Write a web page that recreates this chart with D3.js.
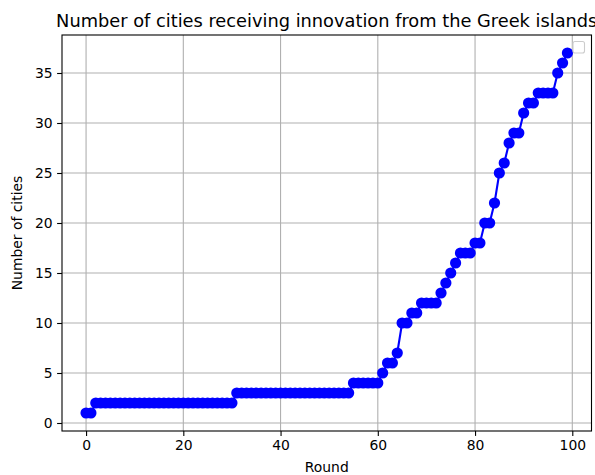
<!DOCTYPE html>
<html>
<head>
<meta charset="utf-8">
<script src="https://cdn.jsdelivr.net/npm/d3@7"></script>
<style>
  body { margin: 0; background: #fff; }
  svg { display: block; font-family: "DejaVu Sans", sans-serif; }
</style>
</head>
<body>
<svg id="chart" width="595" height="475"></svg>
<script>
// ---- data ----
const rounds = d3.range(0, 100);
const cities = [
  1, 1,
  2, 2, 2, 2, 2, 2, 2, 2, 2, 2, 2, 2, 2, 2, 2, 2, 2, 2, 2, 2, 2, 2, 2, 2, 2, 2, 2, 2, 2,
  3, 3, 3, 3, 3, 3, 3, 3, 3, 3, 3, 3, 3, 3, 3, 3, 3, 3, 3, 3, 3, 3, 3, 3,
  4, 4, 4, 4, 4, 4,
  5,
  6, 6,
  7,
  10, 10,
  11, 11,
  12, 12, 12, 12,
  13, 14, 15, 16,
  17, 17, 17,
  18, 18,
  20, 20,
  22, 25, 26, 28,
  29, 29,
  31,
  32, 32,
  33, 33, 33, 33,
  35, 36, 37
];
const xTicks = [0, 20, 40, 60, 80, 100];
const yTicks = [0, 5, 10, 15, 20, 25, 30, 35];
const titleText = "Number of cities receiving innovation from the Greek islands";
const xLabel = "Round";
const yLabel = "Number of cities";

// ---- layout ----
const svg = d3.select("#chart");
const L = 62, R = 591.5, T = 35, B = 431;

const xMin = d3.min(rounds), xMax = d3.max(rounds);
const xPad = (xMax - xMin) * 0.05;
const yMin = d3.min(cities), yMax = d3.max(cities);
const yPad = (yMax - yMin) * 0.05;

const x = d3.scaleLinear().domain([xMin - xPad, xMax + xPad]).range([L, R]);
const y = d3.scaleLinear().domain([yMin - yPad, yMax + yPad]).range([B, T]);

// grid
const grid = svg.append("g");
grid.selectAll(".gx").data(xTicks).enter().append("line")
  .attr("x1", d => x(d)).attr("x2", d => x(d))
  .attr("y1", T).attr("y2", B)
  .attr("stroke", "#b0b0b0").attr("stroke-width", 1.1);
grid.selectAll(".gy").data(yTicks).enter().append("line")
  .attr("x1", L).attr("x2", R)
  .attr("y1", d => y(d)).attr("y2", d => y(d))
  .attr("stroke", "#b0b0b0").attr("stroke-width", 1.1);

// axes
const xAxis = d3.axisBottom(x).tickValues(xTicks).tickSize(4.9).tickPadding(4.5).tickFormat(d3.format("d"));
const yAxis = d3.axisLeft(y).tickValues(yTicks).tickSize(4.9).tickPadding(4.5).tickFormat(d3.format("d"));

const gx = svg.append("g").attr("transform", `translate(0,${B})`).call(xAxis);
const gy = svg.append("g").attr("transform", `translate(${L},0)`).call(yAxis);
[gx, gy].forEach(g => {
  g.select(".domain").remove();
  g.selectAll(".tick line").attr("stroke", "#000").attr("stroke-width", 1.1);
  g.selectAll(".tick text").attr("fill", "#000")
    .style("font-family", "DejaVu Sans").style("font-size", "13.9px");
});

// series
const pts = rounds.map((r, i) => [r, cities[i]]);
svg.append("path")
  .datum(pts)
  .attr("fill", "none")
  .attr("stroke", "#0000ff")
  .attr("stroke-width", 2.1)
  .attr("stroke-linejoin", "round")
  .attr("d", d3.line().x(d => x(d[0])).y(d => y(d[1])));
svg.append("g").selectAll("circle").data(pts).enter().append("circle")
  .attr("cx", d => x(d[0])).attr("cy", d => y(d[1]))
  .attr("r", 5.6).attr("fill", "#0000ff");

// spines
svg.append("rect")
  .attr("x", L).attr("y", T).attr("width", R - L).attr("height", B - T)
  .attr("fill", "none").attr("stroke", "#000").attr("stroke-width", 1.1);

// empty legend box
svg.append("rect")
  .attr("x", R - 18.5).attr("y", T + 6.5).attr("width", 11.5).attr("height", 11.5)
  .attr("rx", 2).attr("fill", "#fff").attr("fill-opacity", 0.8)
  .attr("stroke", "#cccccc").attr("stroke-width", 1.1);

// title & labels
svg.append("text")
  .attr("x", (L + R) / 2).attr("y", 26.5)
  .attr("text-anchor", "middle")
  .style("font-size", "17.8px").attr("fill", "#000")
  .text(titleText);
svg.append("text")
  .attr("x", (L + R) / 2).attr("y", 472)
  .attr("text-anchor", "middle")
  .style("font-size", "13.9px").attr("fill", "#000")
  .text(xLabel);
svg.append("text")
  .attr("transform", `translate(22,${(T + B) / 2}) rotate(-90)`)
  .attr("text-anchor", "middle")
  .style("font-size", "13.9px").attr("fill", "#000")
  .text(yLabel);
</script>
</body>
</html>
